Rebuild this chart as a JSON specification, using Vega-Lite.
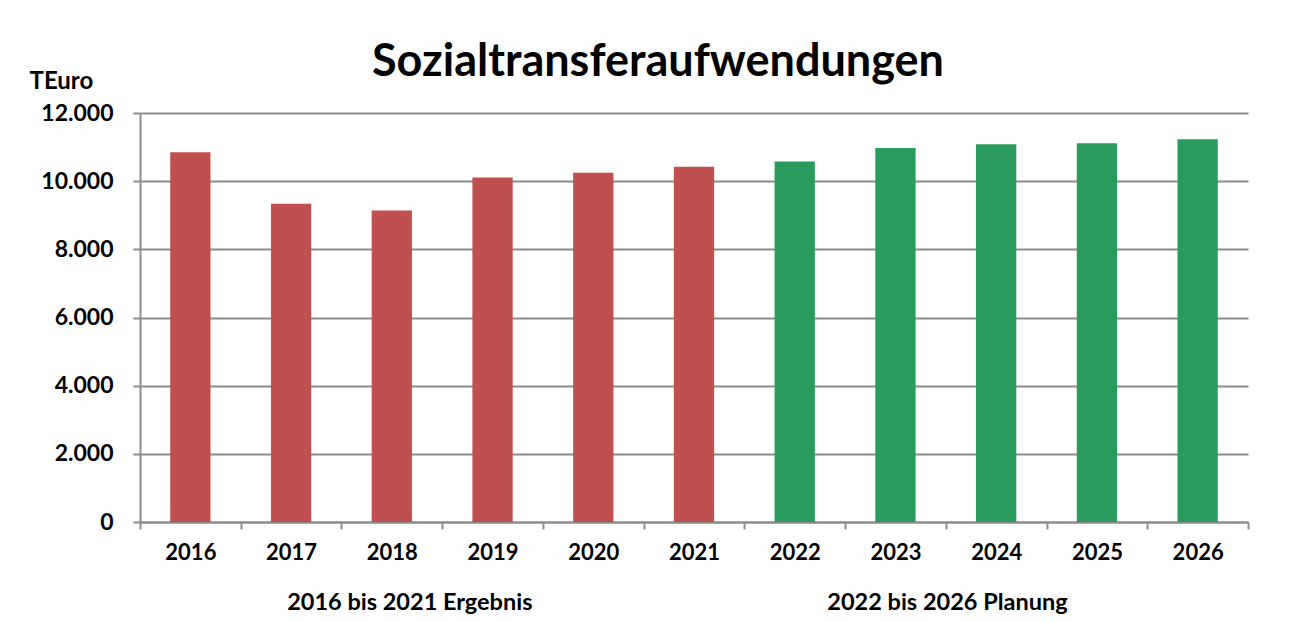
{
  "$schema": "https://vega.github.io/schema/vega-lite/v6.json",
  "width": 1108,
  "height": 409,
  "autosize": {"type": "none"},
  "padding": {"left": 140, "top": 113, "right": 64, "bottom": 100},
  "background": "white",
  "title": {
    "text": "Sozialtransferaufwendungen",
    "fontSize": 45,
    "fontWeight": "bold",
    "font": "Lato",
    "color": "black",
    "anchor": "middle",
    "dx": -36,
    "offset": -16
  },
  "config": {
    "view": {"stroke": null},
    "font": "Lato",
    "locale": {"number": {"decimal": ",", "thousands": ".", "grouping": [3], "currency": ["", " €"]}}
  },
  "datasets": {
    "bars": [
      {"year": "2016", "value": 10848, "type": "Ergebnis"},
      {"year": "2017", "value": 9340, "type": "Ergebnis"},
      {"year": "2018", "value": 9140, "type": "Ergebnis"},
      {"year": "2019", "value": 10110, "type": "Ergebnis"},
      {"year": "2020", "value": 10250, "type": "Ergebnis"},
      {"year": "2021", "value": 10420, "type": "Ergebnis"},
      {"year": "2022", "value": 10580, "type": "Planung"},
      {"year": "2023", "value": 10970, "type": "Planung"},
      {"year": "2024", "value": 11080, "type": "Planung"},
      {"year": "2025", "value": 11110, "type": "Planung"},
      {"year": "2026", "value": 11230, "type": "Planung"}
    ],
    "labels1": [{"year": "2018", "label": "2016 bis 2021 Ergebnis", "value": 0}],
    "labels2": [{"year": "2023", "label": "2022 bis 2026 Planung", "value": 0}]
  },
  "layer": [
    {
      "data": {"name": "bars"},
      "mark": {"type": "bar", "width": {"band": 0.4}},
      "encoding": {
        "x": {
          "field": "year",
          "type": "nominal",
          "sort": null,
          "scale": {"paddingInner": 0, "paddingOuter": 0},
          "axis": {
            "title": null,
            "labelAngle": 0,
            "labelFontSize": 22,
            "labelFontWeight": "bold",
            "labelColor": "black",
            "labelPadding": 13,
            "tickBand": "extent",
            "tickSize": 7,
            "tickColor": "#8c8c8c",
            "tickWidth": 2,
            "domainColor": "#8c8c8c",
            "domainWidth": 2,
            "grid": false
          }
        },
        "y": {
          "field": "value",
          "type": "quantitative",
          "scale": {"domain": [0, 12000], "nice": false},
          "axis": {
            "values": [0, 2000, 4000, 6000, 8000, 10000, 12000],
            "format": ",.0f",
            "title": "TEuro",
            "titleAngle": 0,
            "titleAlign": "left",
            "titleBaseline": "alphabetic",
            "titleX": -111,
            "titleY": -25,
            "titleFontSize": 24,
            "titleFontWeight": "bold",
            "titleColor": "black",
            "labelFontSize": 23,
            "labelFontWeight": "bold",
            "labelColor": "black",
            "labelPadding": 20,
            "tickSize": 7,
            "tickColor": "#8c8c8c",
            "tickWidth": 2,
            "domainColor": "#8c8c8c",
            "domainWidth": 2,
            "grid": true,
            "gridColor": "#8c8c8c",
            "gridWidth": 2
          }
        },
        "color": {
          "field": "type",
          "type": "nominal",
          "scale": {"domain": ["Ergebnis", "Planung"], "range": ["#C0504D", "#289B5D"]},
          "legend": null
        }
      }
    },
    {
      "data": {"name": "labels1"},
      "mark": {"type": "text", "fontSize": 23.5, "fontWeight": "bold", "color": "black", "dx": 18, "dy": 81, "baseline": "middle"},
      "encoding": {
        "x": {"field": "year", "type": "nominal", "sort": null},
        "y": {"field": "value", "type": "quantitative"},
        "text": {"field": "label"}
      }
    },
    {
      "data": {"name": "labels2"},
      "mark": {"type": "text", "fontSize": 23.5, "fontWeight": "bold", "color": "black", "dx": 52, "dy": 81, "baseline": "middle"},
      "encoding": {
        "x": {"field": "year", "type": "nominal", "sort": null},
        "y": {"field": "value", "type": "quantitative"},
        "text": {"field": "label"}
      }
    }
  ]
}
